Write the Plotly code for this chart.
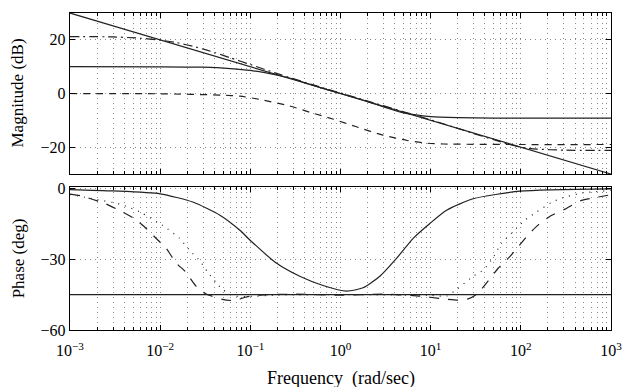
import numpy as np
import plotly.graph_objects as go

# ---------------- data ----------------
# ideal fractional integrator (straight line)
w_ideal = [1e-3, 1e3]
mag_ideal = [30, -30]
ph_ideal = [-45, -45]

# solid approximation
w_solid_mag = [0.001, 0.01, 0.03, 0.06, 0.1, 0.2, 0.3, 0.5, 1, 2, 3, 5, 10, 20, 50, 100, 1000]
mag_solid = [10.0, 9.95, 9.8, 9.3, 8.6, 6.8, 5.4, 3.0, 0.0, -3.0, -5.0, -7.2, -8.6, -9.0, -9.15, -9.2, -9.2]

w_solid_ph = [0.001, 0.003, 0.01, 0.023, 0.046, 0.076, 0.1, 0.194, 0.353, 0.64, 1.17, 1.78,
              2.73, 4.2, 6.4, 9.8, 15, 29.6, 98, 1000]
ph_solid = [-0.4, -1.0, -2.2, -5.7, -11.3, -17.6, -22.0, -31.6, -37.2, -41.1, -43.5, -42.1,
            -37.2, -29.5, -21.1, -14.8, -9.2, -4.3, -1.1, -0.1]

# dashed approximation (magnitude 0 -> -19 dB)
w_dash_mag = [0.001, 0.01, 0.05, 0.077, 0.127, 0.27, 0.46, 0.82, 1.5, 2.95, 5.5, 9.1, 14, 100, 1000]
mag_dash = [0.0, -0.1, -0.6, -1.0, -2.2, -4.6, -7.0, -9.5, -12.4, -15.5, -17.5, -18.5, -18.8, -19.0, -19.0]

# dash-dot approximation (magnitude 21 -> -21 dB)
w_dd_mag = [0.001, 0.003, 0.006, 0.01, 0.015, 0.025, 0.04, 0.06, 0.1, 0.2, 0.5, 1, 2, 5, 10,
            20, 30, 50, 70, 100, 150, 300, 1000]
mag_dd = [21.2, 21.1, 20.6, 19.9, 19.0, 17.3, 15.3, 13.3, 10.8, 7.4, 3.2, 0.2, -2.8, -6.8, -9.8,
          -13.0, -14.9, -17.2, -18.7, -20.0, -20.7, -21.1, -21.2]

# long-dash phase curve
w_ld_ph = [0.001, 0.0013, 0.0016, 0.0025, 0.0035, 0.0052, 0.0066, 0.0094, 0.0116, 0.015, 0.019,
           0.025, 0.032, 0.049, 0.067, 0.09, 0.13, 0.3, 1, 3, 7, 14, 20, 26, 32, 43, 56, 75, 93,
           120, 155, 215, 310, 470, 670, 1000]
ph_ld = [-2.3, -3.0, -4.0, -6.5, -9.2, -12.8, -16.0, -21.8, -25.2, -31.5, -35.2,
         -41.4, -44.6, -47.0, -47.5, -46.0, -45.2, -44.8, -45.2, -44.8, -45.5, -46.8, -47.3, -46.8, -45.0,
         -39.4, -33.8, -29.0, -24.8, -19.7, -15.5, -11.5, -8.7, -5.0, -3.8, -2.6]

# dotted phase curve
w_dot_ph = [0.001, 0.0019, 0.0036, 0.006, 0.0107, 0.0163, 0.021, 0.028, 0.033, 0.042, 0.05, 0.064,
            0.09, 0.2, 1, 10, 15, 19.4, 29.6, 38.8, 50, 61, 90, 110, 150, 218, 272, 470, 1000]
ph_dot = [-2.5, -4.5, -6.6, -10.0, -15.7, -21.0, -26.0, -31.0, -35.0, -40.0, -43.0, -45.5,
          -45.8, -45.2, -45.0, -45.3, -45.6, -42.8, -37.2, -34.4, -28.8, -23.2, -16.9, -13.5, -9.9,
          -5.9, -4.3, -1.9, -0.8]

x_tickvals = [1e-3, 1e-2, 1e-1, 1, 10, 100, 1000]
x_ticktext = ["10<sup>\u22123</sup>", "10<sup>\u22122</sup>", "10<sup>\u22121</sup>",
              "10<sup>0</sup>", "10<sup>1</sup>", "10<sup>2</sup>", "10<sup>3</sup>"]
mag_tickvals = [-20, 0, 20]
mag_ticktext = ["\u221220", "0", "20"]
ph_tickvals = [-60, -30, 0]
ph_ticktext = ["\u221260", "\u221230", "0"]

# ---------------- figure ----------------
FONT = "Liberation Serif"
LC = "#222"
GRID = "#8a8a8a"
GDASH = "1px,4px"

fig = go.Figure()

def add(x, y, dash, xa, ya, width=1.2):
    fig.add_trace(go.Scatter(x=x, y=y, mode="lines", xaxis=xa, yaxis=ya,
                             line=dict(color=LC, width=width, dash=dash, shape="spline", smoothing=0.6),
                             showlegend=False, hoverinfo="skip"))

# magnitude
add(w_ideal, mag_ideal, "solid", "x", "y")
add(w_solid_mag, mag_solid, "solid", "x", "y")
add(w_dash_mag, mag_dash, "7px,6px", "x", "y")
add(w_dd_mag, mag_dd, "9px,4px,2px,4px", "x", "y")
# phase
add(w_ideal, ph_ideal, "solid", "x2", "y2")
add(w_solid_ph, ph_solid, "solid", "x2", "y2")
add(w_ld_ph, ph_ld, "10px,9px", "x2", "y2")
add(w_dot_ph, ph_dot, "1px,6px", "x2", "y2")

minor_vals = [m * 10.0 ** e for e in range(-3, 3) for m in range(2, 10)]

def xaxis_cfg(show_labels, anchor):
    return dict(type="log", range=[-3, 3], anchor=anchor,
                tickmode="array", tickvals=x_tickvals, ticktext=x_ticktext,
                showticklabels=show_labels, ticks="inside", ticklen=5, tickcolor="black",
                ticklabelstandoff=6,
                showline=True, mirror="allticks", linecolor="black", linewidth=1.2,
                showgrid=True, gridcolor=GRID, griddash=GDASH, gridwidth=1,
                minor=dict(tickmode="array", tickvals=minor_vals, ticks="inside", ticklen=3,
                           tickcolor="black", showgrid=True, gridcolor=GRID, griddash=GDASH, gridwidth=1),
                tickfont=dict(family=FONT, size=16, color="black"),
                zeroline=False)

def yaxis_cfg(rng, tv, tt, dom, anchor):
    return dict(range=rng, domain=dom, anchor=anchor,
                tickmode="array", tickvals=tv, ticktext=tt,
                ticks="inside", ticklen=5, tickcolor="black",
                showline=True, mirror="allticks", linecolor="black", linewidth=1.2,
                showgrid=True, gridcolor=GRID, griddash=GDASH, gridwidth=1,
                zeroline=False,
                tickfont=dict(family=FONT, size=16, color="black"))

fig.update_layout(
    width=637, height=387, autosize=False,
    margin=dict(l=70, r=26, t=7, b=57),
    paper_bgcolor="white", plot_bgcolor="white",
    font=dict(family=FONT, size=16, color="black"),
    xaxis=xaxis_cfg(False, "y"),
    yaxis=yaxis_cfg([-30, 30], mag_tickvals, mag_ticktext, [0.492, 1.0], "x"),
    xaxis2=xaxis_cfg(True, "y2"),
    yaxis2=yaxis_cfg([-60, 0.8], ph_tickvals, ph_ticktext, [0.0, 0.452], "x2"),
    annotations=[
        dict(text="Magnitude (dB)", xref="paper", yref="paper", x=0, y=0.746, xshift=-52,
             xanchor="center", yanchor="middle", textangle=-90, showarrow=False,
             font=dict(family=FONT, size=17)),
        dict(text="Phase (deg)", xref="paper", yref="paper", x=0, y=0.226, xshift=-52,
             xanchor="center", yanchor="middle", textangle=-90, showarrow=False,
             font=dict(family=FONT, size=17)),
        dict(text="Frequency\u00a0\u00a0(rad/sec)", xref="paper", yref="paper", x=0.5, y=0, yshift=-48,
             xanchor="center", yanchor="middle", showarrow=False,
             font=dict(family=FONT, size=18)),
    ],
)

fig.write_html("out.html", config={"displayModeBar": False, "staticPlot": True},
               post_script="document.body.style.margin='0';document.body.style.padding='0';")
